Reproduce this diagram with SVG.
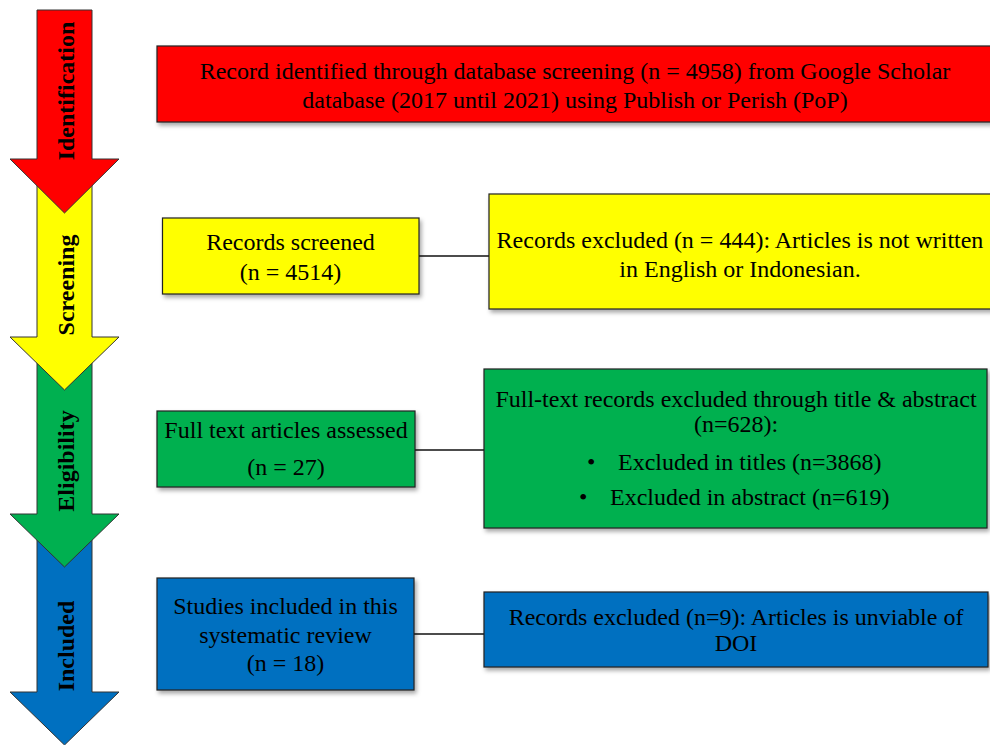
<svg xmlns="http://www.w3.org/2000/svg" width="990" height="745" viewBox="0 0 990 745">
<defs>
<filter id="sh" x="-5%" y="-10%" width="115%" height="130%">
<feDropShadow dx="2" dy="3" stdDeviation="2" flood-color="#000" flood-opacity="0.35"/>
</filter>
<style>
.box{stroke:#222;stroke-width:1.2;filter:url(#sh)}
.t{font-family:"Liberation Serif","Times New Roman",serif;font-size:24px;fill:#000;text-anchor:middle}
.ts{font-family:"Liberation Serif","Times New Roman",serif;font-size:24px;fill:#000}
.lab{font-family:"Liberation Serif","Times New Roman",serif;font-size:24px;font-weight:bold;fill:#000;text-anchor:middle}
.arr{stroke:#333;stroke-width:1}
.con{stroke:#111;stroke-width:1.5;fill:none}
</style>
</defs>
<rect width="990" height="745" fill="#fff"/>

<g id="stage-arrows">
<g id="arrow-included">
<polygon class="arr" fill="#0070C0" points="37,514 92,514 92,692 119,692 64.5,745 10,692 37,692"/>
<text class="lab" transform="translate(74,646) rotate(-90)">Included</text>
</g>
<g id="arrow-eligibility">
<polygon class="arr" fill="#00B050" points="37,337 92,337 92,514 119,514 64.5,567 10,514 37,514"/>
<text class="lab" transform="translate(74,461) rotate(-90)">Eligibility</text>
</g>
<g id="arrow-screening">
<polygon class="arr" fill="#FFFF00" points="37,160 92,160 92,337 119,337 64.5,390 10,337 37,337"/>
<text class="lab" transform="translate(74,285) rotate(-90)">Screening</text>
</g>
<g id="arrow-identification">
<polygon class="arr" fill="#FF0000" points="37,10 92,10 92,159 119,159 64.5,213 10,159 37,159"/>
<text class="lab" transform="translate(74,91) rotate(-90)">Identification</text>
</g>
</g>

<g id="connectors">
<line class="con" x1="419" y1="256" x2="489" y2="256"/>
<line class="con" x1="415" y1="450" x2="484" y2="450"/>
<line class="con" x1="414" y1="634" x2="484" y2="634"/>
</g>

<g id="identified">
<rect class="box" x="157" y="46" width="836" height="76" fill="#FF0000"/>
<text class="t" x="575" y="79">Record identified through database screening (n = 4958) from Google Scholar</text>
<text class="t" x="575" y="108">database (2017 until 2021) using Publish or Perish (PoP)</text>
</g>

<g id="screened">
<rect class="box" x="162.5" y="218" width="256.5" height="76" fill="#FFFF00"/>
<text class="t" x="290.5" y="250">Records screened</text>
<text class="t" x="290.5" y="280">(n = 4514)</text>
</g>

<g id="excluded-language">
<rect class="box" x="489" y="194" width="504" height="115" fill="#FFFF00"/>
<text class="t" x="740" y="248">Records excluded (n = 444): Articles is not written</text>
<text class="t" x="740" y="277">in English or Indonesian.</text>
</g>

<g id="assessed">
<rect class="box" x="157" y="411" width="258" height="76" fill="#00B050"/>
<text class="t" x="286" y="438">Full text articles assessed</text>
<text class="t" x="286" y="475">(n = 27)</text>
</g>

<g id="excluded-title-abstract">
<rect class="box" x="484" y="369" width="503" height="159" fill="#00B050"/>
<text class="t" x="736" y="407">Full-text records excluded through title &amp; abstract</text>
<text class="t" x="736" y="432">(n=628):</text>
<text class="ts" x="587" y="470">•</text>
<text class="ts" x="618" y="470">Excluded in titles (n=3868)</text>
<text class="ts" x="579" y="505">•</text>
<text class="ts" x="610" y="505">Excluded in abstract (n=619)</text>
</g>

<g id="included">
<rect class="box" x="157" y="578" width="257" height="112" fill="#0070C0"/>
<text class="t" x="285.5" y="614">Studies included in this</text>
<text class="t" x="285.5" y="643">systematic review</text>
<text class="t" x="285.5" y="671">(n = 18)</text>
</g>

<g id="excluded-doi">
<rect class="box" x="484" y="592" width="504" height="75" fill="#0070C0"/>
<text class="t" x="736" y="625">Records excluded (n=9): Articles is unviable of</text>
<text class="t" x="736" y="651">DOI</text>
</g>
</svg>
